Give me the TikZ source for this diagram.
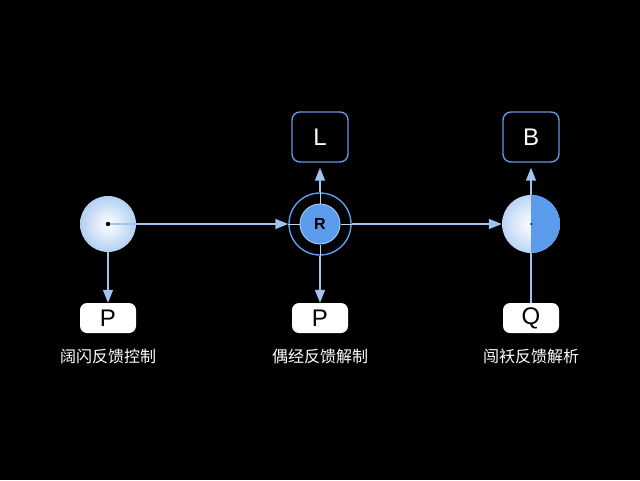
\documentclass[tikz,border=0pt]{standalone}
\usepackage{fontspec}
\newfontfamily\cjk{Noto Sans CJK SC}
\setmainfont{Liberation Sans}
\usetikzlibrary{arrows.meta}
\pgfdeclarelayer{bg}
\pgfsetlayers{bg,main}
\definecolor{lineblue}{RGB}{160,195,240}
\definecolor{fillblue}{RGB}{90,155,235}
\definecolor{boxedge}{RGB}{100,150,225}
\tikzset{
  conn/.style={lineblue, line width=1.6pt, -{Triangle[width=10pt,length=13pt]}},
  topbox/.style={draw=boxedge, line width=1.4pt, rounded corners=8pt, fill=black,
    minimum width=56pt, minimum height=50pt, text=white, font=\fontsize{24}{24}\selectfont},
  lowbox/.style={fill=white, rounded corners=7pt, minimum width=56pt, minimum height=30pt,
    text=black, font=\fontsize{24}{24}\selectfont},
  caption/.style={text=white, font=\cjk\fontsize{16}{16}\selectfont},
}
\begin{document}
\begin{tikzpicture}[x=1pt,y=-1pt]
    \fill[black] (0,0) rectangle (640,480);
    \useasboundingbox (0,0) rectangle (640,480);
    % nodes
    \node[circle, minimum size=56pt, inner sep=0pt, inner color=white, outer color=lineblue!80] (left) at (108,224) {};
    \node[circle, draw=fillblue, line width=1.4pt, minimum size=62pt, inner sep=0pt] (mid) at (320,224) {};
    \node[circle, fill=fillblue, draw=lineblue, line width=1pt, minimum size=40pt, inner sep=0pt,
      font=\bfseries\fontsize{16}{16}\selectfont] (midin) at (mid.center) {R};
    \node[circle, minimum size=58pt, inner sep=0pt, inner color=white, outer color=lineblue!70] (right) at (531,224) {};
    \fill[fillblue] (right.north) arc (90:-90:29pt) -- cycle;
    \fill[black] (right.center) circle (1pt);
    \node[topbox] (L) at (320,137) {L};
    \node[topbox] (B) at (531,137) {B};
    \node[lowbox] (P1) at (108,318) {P};
    \node[lowbox] (P2) at (320,318) {P};
    \node[lowbox] (Q) at (531,318) {Q};
    \node[caption] (c1) at (108,356) {阔闪反馈控制};
    \node[caption] (c2) at (320,356) {偶经反馈解制};
    \node[caption] (c3) at (531,356) {闯袄反馈解析};
    % connectors
    \draw[conn] (left.center) -- (mid.west);
    \fill[black] (left.center) circle (2.2pt);
    \draw[conn] (mid.east) -- (right.west);
    \draw[conn] (left.south) -- (P1.north);
    \draw[conn] (mid.south) -- (P2.north);
    \draw[conn, shorten >=5pt] (mid.north) -- (L.south);
    \draw[conn, shorten >=5pt] (right.north) -- (B.south);
    \draw[lineblue, line width=1.6pt] (Q.north) -- (right.south);
    \draw[lineblue!70, line width=0.8pt] (midin.north) -- (mid.north) (midin.south) -- (mid.south)
      (midin.west) -- (mid.west) (midin.east) -- (mid.east);
\end{tikzpicture}
\end{document}
